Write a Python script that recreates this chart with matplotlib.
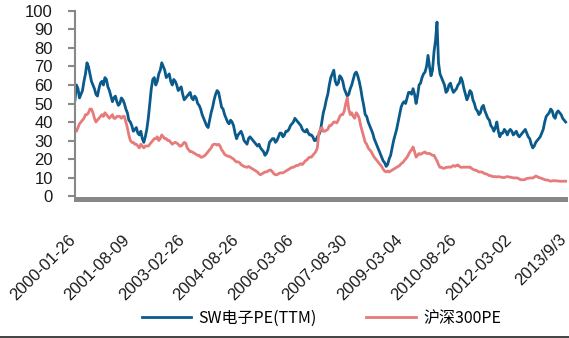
import numpy as np
import matplotlib
matplotlib.use('Agg')
import matplotlib.pyplot as plt
import matplotlib.transforms as mtransforms
from matplotlib.lines import Line2D

# PE readings, 2000-01 .. 2013-09: one per month plus one mid-month reading in between
sw_pe_month = [52, 58, 55, 62, 72, 66, 60, 55, 58, 62, 64, 59, 54, 53, 51, 50, 52, 47, 41, 38,
               36, 34, 35, 29, 36, 50, 63, 60, 66, 72, 68, 65, 62, 63, 60, 58, 55, 53, 55, 53,
               54, 50, 47, 42, 38, 41, 48, 55, 56, 48, 44, 40, 41, 38, 31, 34, 33, 29, 31, 31,
               29, 27, 26, 24, 23, 29, 31, 29, 32, 34, 33, 35, 38, 40, 41, 39, 36, 34.6, 34, 33,
               30, 32, 35, 45, 52, 60, 66, 62, 61, 64, 58, 54, 58, 63, 67, 62, 53, 44, 40, 36,
               31, 27, 23, 19, 16, 20, 26, 33, 40, 48, 51, 53, 56, 58, 50, 60, 64, 67, 76, 65,
               78, 94, 66, 62, 56, 60, 58, 57, 60, 64, 58, 52, 57, 52, 47, 44, 48, 46, 42, 38,
               35, 40, 32, 34, 35, 35, 35, 34, 33, 33, 35, 34, 31, 26, 29, 31, 34, 40, 44, 47,
               43, 45, 45, 42, 40]
sw_pe_mid = [60, 53, 57, 66, 70, 62, 58, 54, 61, 60, 63, 57, 51, 54, 49, 53, 50, 45, 40, 35,
             37, 33, 31, 32, 42, 58, 64, 62, 68, 70, 64, 66, 60, 62, 57, 59, 52, 54, 56, 52,
             53, 49, 44, 40, 37, 45, 52, 57, 52, 47, 42, 39, 40, 34, 33, 35, 30, 28, 32, 30,
             28, 28, 25, 22, 25, 30, 31, 30, 34, 32, 35, 36, 39, 42, 40, 38, 35, 36, 33, 32,
             30, 33, 40, 48, 55, 64, 68, 60, 65, 62, 56, 55, 60, 66, 65, 58, 49, 43, 38, 34,
             29, 25, 21, 18, 17, 22, 30, 36, 44, 50, 50, 56, 55, 55, 54, 61, 66, 70, 70, 68,
             84, 72, 64, 60, 57, 61, 56, 58, 61, 62, 55, 54, 56, 50, 46, 45, 49, 44, 41, 37,
             37, 35, 34, 36, 33, 36, 33, 35, 32, 34, 36, 32, 28, 27, 30, 32, 36, 43, 45, 46,
             42, 46, 44, 41]
hs300_pe_month = [36, 37, 40, 42, 44, 47, 45, 40, 42, 44, 45, 43, 43, 42, 43, 43, 43, 40, 33, 29,
                  28, 27, 28, 26, 27, 28, 30, 31, 30, 33, 31, 30, 29, 28.6, 28.6, 27, 28, 28.6, 25, 24,
                  23, 22, 21, 21.5, 23, 25, 27.6, 28, 28, 25, 22.5, 21.5, 21, 20, 18.4, 18, 16.5, 15.7, 16, 15,
                  14, 13, 11.5, 12.5, 13, 14, 13, 11.5, 12, 12.5, 13, 14, 15, 15.5, 16.5, 17, 17, 19, 20.5, 21,
                  23, 26, 36, 35, 35.5, 38, 39, 40, 41, 44, 46, 53, 44, 43, 45, 42, 35, 29, 26, 24,
                  21, 19, 17, 14.5, 13, 13, 14, 15, 16, 17.5, 19, 21, 24, 26.5, 21, 23, 23, 23.8, 23, 22.5,
                  22, 19, 15.5, 15, 15.5, 15.7, 16, 16, 16.8, 15.5, 15.7, 15.7, 15.7, 14.5, 14, 13, 13, 12, 11.5, 11,
                  10.5, 10.3, 10.3, 10, 10.3, 10.3, 10, 9.8, 9.7, 8.8, 8.8, 9.5, 9.7, 9.7, 10.8, 10, 9.5, 8.8, 8.6, 8,
                  8.3, 8.2, 8, 8, 8]
hs300_pe_mid = [35, 39, 41, 44, 45, 47, 42, 41, 43, 43, 44, 42, 44, 42, 43, 42, 43, 37, 30, 29,
                28, 26, 27, 27, 27, 29, 31, 32, 31, 32, 31, 30, 28, 29, 28, 27, 29, 26, 24, 23.5,
                22.5, 22, 21, 22, 24, 26, 28, 27.5, 27, 24, 22, 21.5, 20.5, 19, 18.5, 17, 16, 15.5, 15.5, 14.5,
                13.5, 12, 12, 13, 13.5, 14, 12, 11.5, 12.5, 12.5, 13.5, 14.5, 15.5, 16, 16.5, 17.5, 18, 19.5, 21, 22,
                24, 34, 37, 35, 36, 38, 40, 39.5, 43, 44, 50, 47, 45, 42, 44, 38, 32, 28, 25, 22.5,
                20, 18, 16, 13.5, 13.5, 13.5, 14.5, 15.5, 16.5, 18, 20, 22.5, 25, 24, 22, 22.5, 23.5, 23, 23, 22,
                20.5, 17, 15.5, 15, 15.5, 15.5, 16.5, 16.5, 16, 15.5, 15.5, 15.5, 15, 14, 13.5, 13, 12.5, 12, 11, 10.5,
                10.5, 10.5, 10.2, 10, 10.5, 10.2, 9.8, 9.8, 9.2, 8.8, 9, 9.6, 9.8, 10.2, 10.5, 9.8, 9.2, 8.7, 8.3, 8.2,
                8.2, 8.1, 8, 8]
date_labels = ['2000-01-26', '2001-08-09', '2003-02-26', '2004-08-26', '2006-03-06',
               '2007-08-30', '2009-03-04', '2010-08-26', '2012-03-02', '2013/9/3']
y_ticks = [0, 10, 20, 30, 40, 50, 60, 70, 80, 90, 100]


def interleave(month, mid):
    vals = np.empty(len(month) + len(mid))
    vals[0::2] = month
    vals[1::2] = mid
    return vals


sw_pe = interleave(sw_pe_month, sw_pe_mid)
hs300_pe = interleave(hs300_pe_month, hs300_pe_mid)
x = np.arange(len(sw_pe)) / 2.0
n_month = len(sw_pe_month) - 1

fig = plt.figure(figsize=(5.69, 3.38), dpi=100)
ax = fig.add_axes([0.1318, 0.4009, 0.866, 0.5666])

ax.plot(x, sw_pe, color='#0b5a8c', lw=2.0, label='SW电子PE(TTM)')
ax.plot(x, hs300_pe, color='#e77a7a', lw=2.0, label='沪深300PE')

ax.set_xlim(0, n_month + 0.7)
ax.set_ylim(-3.5, 100)

# thick grey band standing in for the crowded category ticks
ax.axhspan(-3.5, -0.3, xmin=-0.003, xmax=1, color='#878787', lw=0, clip_on=False)

for s in ['top', 'right', 'bottom']:
    ax.spines[s].set_visible(False)
ax.spines['left'].set_color('#888888')
ax.spines['left'].set_linewidth(1.5)
ax.spines['left'].set_bounds(0, 100)

ax.set_yticks(y_ticks)
ax.set_yticklabels([str(v) for v in y_ticks], fontsize=12, family='Liberation Sans', color='#1a1a1a')
ax.tick_params(axis='y', length=5, width=1.5, color='#888888', pad=11)

ax.set_xticks(np.linspace(0, n_month, len(date_labels)))
ax.set_xticklabels(date_labels, rotation=45, ha='right', va='center', rotation_mode='anchor',
                   fontsize=12, family='Liberation Sans', color='#1a1a1a')
ax.tick_params(axis='x', length=0, pad=25)
shift = mtransforms.ScaledTranslation(-2 / 100, 0, fig.dpi_scale_trans)
for lab in ax.get_xticklabels():
    lab.set_transform(lab.get_transform() + shift)

fig.legend(loc='center', bbox_to_anchor=(0.565, 0.059), ncol=2, frameon=False,
           prop={'family': ['Noto Sans CJK SC', 'DejaVu Sans'], 'size': 11.5},
           handlelength=3.1, handletextpad=0.45, columnspacing=3.1)

fig.add_artist(Line2D([0, 1], [0.002, 0.002], color='#222222', lw=1.2))

fig.savefig('out.png', dpi=100)
